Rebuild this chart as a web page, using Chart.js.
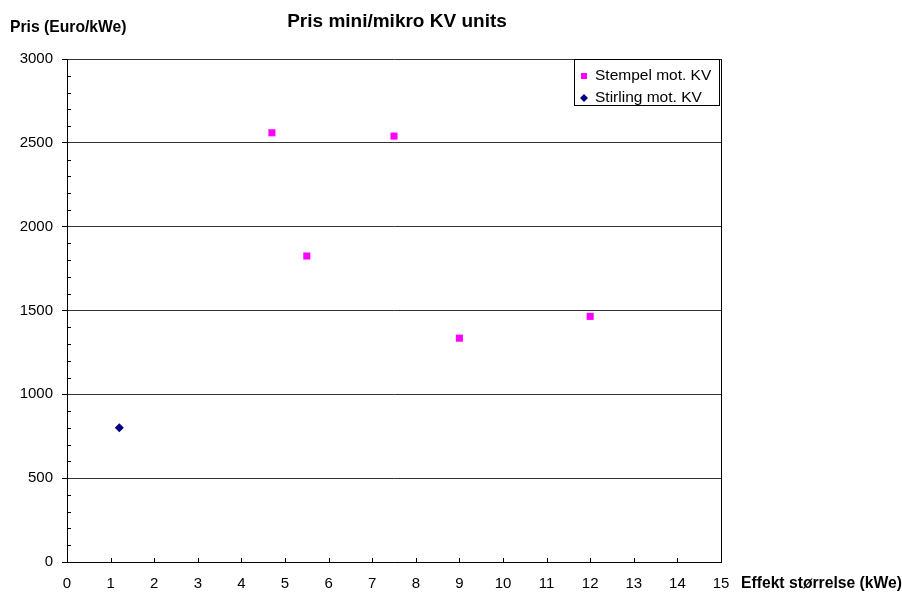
<!DOCTYPE html>
<html>
<head>
<meta charset="utf-8">
<script src="https://cdn.jsdelivr.net/npm/chart.js@4/dist/chart.umd.min.js"></script>
<style>
  html, body { margin: 0; padding: 0; background: #fff; }
  #wrap { width: 902px; height: 592px; }
</style>
</head>
<body>
<div id="wrap"><canvas id="chart" width="902" height="592"></canvas></div>
<script>
// Stempel (piston engine) units: effect in kWe, price in Euro/kWe
const stempelKwe = [4.7, 5.5, 7.5, 9, 12];
const stempelPris = [2560, 1825, 2540, 1335, 1465];

// Stirling engine units
const stirlingKwe = [1.2];
const stirlingPris = [800];

const seriesNames = ["Stempel mot. KV", "Stirling mot. KV"];
const seriesColors = ["#ff00ff", "#000080"];

const FONT = "'Liberation Sans', Arial, sans-serif";

function toPoints(xs, ys) {
  return xs.map((x, i) => ({ x: x, y: ys[i] }));
}

// extra drawing: frame, inner ticks, titles and the boxed legend
const decorations = {
  id: "decorations",
  afterDraw(chart) {
    const ctx = chart.ctx;
    const area = chart.chartArea;
    const xs = chart.scales.x;
    const ys = chart.scales.y;
    ctx.save();

    // right frame line
    ctx.strokeStyle = "#000";
    ctx.lineWidth = 1;
    ctx.beginPath();
    ctx.moveTo(Math.round(area.right) + 0.5, area.top);
    ctx.lineTo(Math.round(area.right) + 0.5, area.bottom);
    ctx.stroke();

    // minor ticks on the value axis, every 100
    ctx.beginPath();
    for (let v = 100; v < 3000; v += 100) {
      if (v % 500 === 0) continue;
      const py = Math.round(ys.getPixelForValue(v)) + 0.5;
      ctx.moveTo(area.left, py);
      ctx.lineTo(area.left + 4, py);
    }
    // major ticks on the x axis, pointing inwards
    for (let v = 1; v <= 15; v++) {
      const px = Math.round(xs.getPixelForValue(v)) + 0.5;
      ctx.moveTo(px, area.bottom);
      ctx.lineTo(px, area.bottom - 4);
    }
    ctx.stroke();

    // titles
    ctx.fillStyle = "#000";
    ctx.textBaseline = "middle";
    ctx.font = "bold 19px " + FONT;
    ctx.textAlign = "center";
    ctx.fillText("Pris mini/mikro KV units", 397, 22);
    ctx.font = "bold 15.7px " + FONT;
    ctx.textAlign = "left";
    ctx.fillText("Pris (Euro/kWe)", 10, 28);
    ctx.fillText("Effekt størrelse (kWe)", 741, 584);

    // legend box
    const lx = 574.5, ly = 59.5, lw = 145, lh = 46;
    ctx.fillStyle = "#fff";
    ctx.fillRect(lx, ly, lw, lh);
    ctx.strokeRect(lx, ly, lw, lh);
    ctx.font = "15.5px " + FONT;
    chart.data.datasets.forEach((ds, i) => {
      const cy = 76 + i * 22;
      ctx.fillStyle = ds.backgroundColor;
      if (ds.pointStyle === "rect") {
        ctx.fillRect(581, cy - 3, 6, 6);
      } else {
        ctx.beginPath();
        ctx.moveTo(584, cy - 4);
        ctx.lineTo(588, cy);
        ctx.lineTo(584, cy + 4);
        ctx.lineTo(580, cy);
        ctx.closePath();
        ctx.fill();
      }
      ctx.fillStyle = "#000";
      ctx.fillText(ds.label, 595, cy);
    });

    ctx.restore();
  }
};

new Chart(document.getElementById("chart"), {
  type: "scatter",
  data: {
    datasets: [
      {
        label: seriesNames[0],
        data: toPoints(stempelKwe, stempelPris),
        backgroundColor: seriesColors[0],
        borderColor: seriesColors[0],
        pointStyle: "rect",
        pointRadius: 5,
        pointBorderWidth: 0
      },
      {
        label: seriesNames[1],
        data: toPoints(stirlingKwe, stirlingPris),
        backgroundColor: seriesColors[1],
        borderColor: seriesColors[1],
        pointStyle: "rectRot",
        pointRadius: 4.5,
        pointBorderWidth: 0
      }
    ]
  },
  options: {
    responsive: false,
    animation: false,
    layout: { padding: { left: 0, right: 181, top: 59, bottom: 0 } },
    plugins: {
      legend: { display: false },
      title: { display: false },
      tooltip: { enabled: false }
    },
    scales: {
      x: {
        type: "linear",
        min: 0,
        max: 15,
        afterFit(scale) { scale.height = 30; },
        ticks: {
          stepSize: 1,
          color: "#000",
          padding: 13,
          font: { family: FONT, size: 15 }
        },
        grid: { display: false, drawTicks: false },
        border: { display: true, color: "#000", width: 1 }
      },
      y: {
        type: "linear",
        min: 0,
        max: 3000,
        afterFit(scale) { scale.width = 67; },
        ticks: {
          stepSize: 500,
          color: "#000",
          padding: 9,
          font: { family: FONT, size: 15 },
          callback: (v) => String(v)
        },
        grid: {
          color: "#333",
          tickColor: "#000",
          tickLength: 5
        },
        border: { display: true, color: "#000", width: 1 }
      }
    }
  },
  plugins: [decorations]
});
</script>
</body>
</html>
